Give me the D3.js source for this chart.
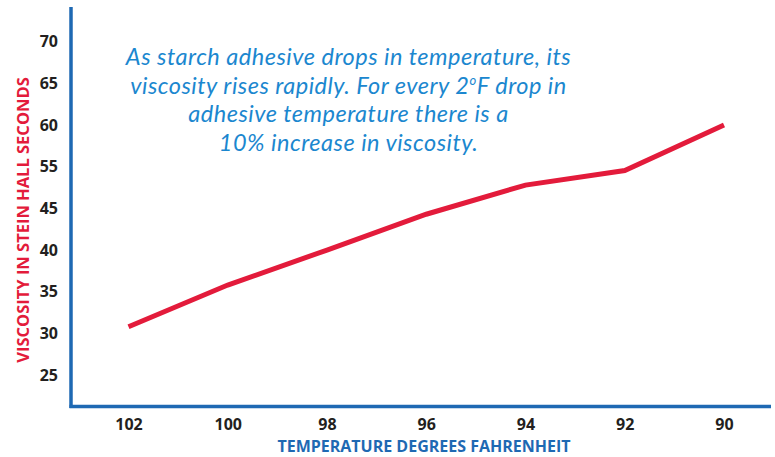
<!DOCTYPE html>
<html>
<head>
<meta charset="utf-8">
<script src="https://cdn.jsdelivr.net/npm/d3@7"></script>
<style>
  body { margin: 0; background: #fff; }
  svg { display: block; font-family: "Open Sans", sans-serif; }
</style>
</head>
<body>
<div id="chart"></div>
<script>
// dati
var temps = [102, 100, 98, 96, 94, 92, 90];
var viscosity = [30.8, 35.8, 40.0, 44.3, 50.6, 54.1, 60];
var yTicks = [25, 30, 35, 40, 45, 55, 60, 65, 70]; // sull'originale manca il 50
var note = [
  "As starch adhesive drops in temperature, its",
  "viscosity rises rapidly. For every 2|o|F drop in",
  "adhesive temperature there is a",
  "10% increase in viscosity."
];

var width = 775, height = 457;
var blue = "#1e69b3", red = "#e31b3b", dark = "#231f20";

var svg = d3.select("#chart").append("svg")
            .attr("width", width)
            .attr("height", height);

var x = d3.scaleLinear().domain([102, 90]).range([128.5, 724]);

// scala a tratti: le etichette sono equidistanti anche se saltano il 50
var y = d3.scaleLinear()
          .domain(yTicks)
          .range(yTicks.map(function(d, i) { return 375 - i * 41.65; }));

// linea dei dati
var line = d3.line()
             .x(function(d, i) { return x(temps[i]); })
             .y(function(d) { return y(d); });

svg.append("path")
   .datum(viscosity)
   .attr("fill", "none")
   .attr("stroke", red)
   .attr("stroke-width", 5)
   .attr("stroke-linejoin", "miter")
   .attr("d", line);

// assi
svg.append("line")
   .attr("x1", 71).attr("x2", 71)
   .attr("y1", 7).attr("y2", 408)
   .attr("stroke", blue).attr("stroke-width", 3.5);

svg.append("line")
   .attr("x1", 69.5).attr("x2", 771)
   .attr("y1", 406.5).attr("y2", 406.5)
   .attr("stroke", blue).attr("stroke-width", 3.5);

var yAxis = d3.axisLeft(y).tickValues(yTicks).tickSize(0).tickPadding(0);
var gy = svg.append("g").attr("transform", "translate(58,0)").call(yAxis);
gy.select(".domain").remove();
gy.selectAll("text")
  .attr("fill", dark)
  .style("font-size", "16px")
  .style("font-weight", "bold")
  .style("font-family", "'Open Sans', sans-serif");

var xAxis = d3.axisBottom(x).tickValues(temps).tickSize(0).tickPadding(0);
var gx = svg.append("g").attr("transform", "translate(0,419)").call(xAxis);
gx.select(".domain").remove();
gx.selectAll("text")
  .attr("fill", dark)
  .style("font-size", "16px")
  .style("font-weight", "bold")
  .style("font-family", "'Open Sans', sans-serif");

// titoli degli assi
svg.append("text")
   .attr("transform", "translate(28.5,220) rotate(-90)")
   .attr("text-anchor", "middle")
   .attr("fill", red)
   .style("font-size", "16.5px")
   .style("font-weight", "bold")
   .text("VISCOSITY IN STEIN HALL SECONDS");

svg.append("text")
   .attr("x", 424)
   .attr("y", 452)
   .attr("text-anchor", "middle")
   .attr("fill", blue)
   .style("font-size", "16px")
   .style("font-weight", "bold")
   .text("TEMPERATURE DEGREES FAHRENHEIT");

// nota in corsivo, una riga per elemento
note.forEach(function(l, i) {
    var t = svg.append("text")
               .attr("x", 348.5)
               .attr("y", 65 + i * 28.5)
               .attr("text-anchor", "middle")
               .attr("fill", "#1b87cf")
               .style("font-family", "Lato, sans-serif")
               .style("font-size", "23.5px")
               .style("letter-spacing", "0.5px")
               .style("font-style", "italic");
    var parts = l.split("|");
    if (parts.length == 1) {
        t.text(l);
    } else {
        t.append("tspan").text(parts[0]);
        t.append("tspan").attr("dy", -9).style("font-size", "13px").text(parts[1]);
        t.append("tspan").attr("dy", 9).text(parts[2]);
    }
});
</script>
</body>
</html>
